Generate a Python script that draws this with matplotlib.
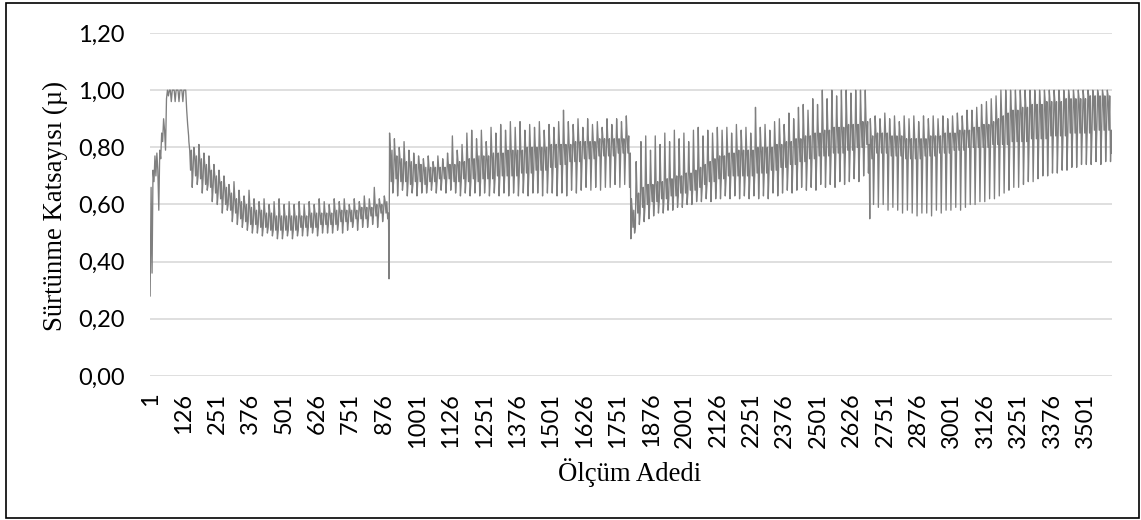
import numpy as np
import matplotlib.pyplot as plt
from matplotlib.patches import Rectangle

# --- okunan değerler (grafikten tahmini) ---
n_olcum = 3600

# başlangıç kısmı (1-145): yükselme ve 1,00 doygunluğu
bas = [0.28, 0.66, 0.36, 0.72, 0.68, 0.77, 0.70, 0.78, 0.72, 0.58,
       0.79, 0.76, 0.85, 0.82, 0.90, 0.86, 0.79, 0.97, 1.00, 0.98,
       1.00, 1.00, 0.96, 1.00, 1.00, 1.00, 0.96, 1.00, 1.00, 1.00,
       0.96, 1.00, 1.00, 1.00, 0.96, 1.00, 1.00, 1.00, 0.93, 0.88, 0.84]

# her bölüm: tepe, bant üstü, bant altı, dip değerleri
a_hi = [0.82, 0.80, 0.81, 0.78, 0.77, 0.74, 0.72, 0.70, 0.67, 0.68,
        0.65, 0.63, 0.65, 0.62, 0.61, 0.62, 0.60, 0.61, 0.62, 0.60,
        0.61, 0.60, 0.61, 0.60, 0.61, 0.60, 0.62, 0.61, 0.60, 0.62,
        0.61, 0.62, 0.60, 0.62, 0.61, 0.63, 0.62, 0.66, 0.62, 0.63]
a_bt = [0.79, 0.77, 0.76, 0.74, 0.72, 0.70, 0.68, 0.66, 0.64, 0.62,
        0.61, 0.60, 0.59, 0.58, 0.58, 0.57, 0.57, 0.56, 0.56, 0.56,
        0.56, 0.56, 0.56, 0.56, 0.57, 0.57, 0.57, 0.57, 0.57, 0.58,
        0.58, 0.58, 0.58, 0.58, 0.59, 0.59, 0.59, 0.60, 0.60, 0.61]
a_bb = [0.72, 0.70, 0.69, 0.67, 0.66, 0.64, 0.62, 0.60, 0.58, 0.57,
        0.55, 0.54, 0.53, 0.53, 0.52, 0.52, 0.51, 0.51, 0.51, 0.51,
        0.51, 0.51, 0.52, 0.52, 0.52, 0.52, 0.53, 0.53, 0.53, 0.53,
        0.54, 0.54, 0.54, 0.55, 0.55, 0.55, 0.56, 0.56, 0.57, 0.57]
a_lo = [0.66, 0.67, 0.64, 0.65, 0.61, 0.60, 0.57, 0.58, 0.54, 0.53,
        0.52, 0.51, 0.50, 0.50, 0.49, 0.50, 0.49, 0.48, 0.48, 0.49,
        0.48, 0.49, 0.49, 0.49, 0.50, 0.49, 0.50, 0.50, 0.50, 0.51,
        0.50, 0.51, 0.52, 0.51, 0.52, 0.52, 0.53, 0.52, 0.54, 0.55]

b_hi = [0.85, 0.83, 0.80, 0.82, 0.79, 0.78, 0.77, 0.76, 0.77, 0.75,
        0.77, 0.76, 0.78, 0.84, 0.79, 0.81, 0.85, 0.86, 0.83, 0.86,
        0.82, 0.87, 0.85, 0.88, 0.86, 0.89, 0.87, 0.89, 0.86, 0.88,
        0.87, 0.89, 0.86, 0.88, 0.87, 0.89, 0.93, 0.89, 0.88, 0.90,
        0.87, 0.90, 0.88, 0.89, 0.87, 0.90, 0.88, 0.90, 0.89, 0.91]
b_bt = [0.79, 0.77, 0.76, 0.75, 0.75, 0.74, 0.74, 0.73, 0.73, 0.73,
        0.73, 0.73, 0.74, 0.74, 0.75, 0.75, 0.76, 0.76, 0.77, 0.77,
        0.77, 0.78, 0.78, 0.78, 0.79, 0.79, 0.79, 0.79, 0.80, 0.80,
        0.80, 0.80, 0.80, 0.81, 0.81, 0.81, 0.81, 0.81, 0.82, 0.82,
        0.82, 0.82, 0.82, 0.83, 0.83, 0.83, 0.83, 0.83, 0.83, 0.84]
b_bb = [0.68, 0.69, 0.68, 0.68, 0.67, 0.68, 0.68, 0.67, 0.68, 0.68,
        0.69, 0.69, 0.69, 0.68, 0.68, 0.69, 0.68, 0.69, 0.68, 0.69,
        0.69, 0.69, 0.70, 0.70, 0.70, 0.70, 0.70, 0.71, 0.71, 0.71,
        0.72, 0.72, 0.72, 0.73, 0.73, 0.74, 0.74, 0.75, 0.75, 0.75,
        0.76, 0.76, 0.76, 0.77, 0.77, 0.77, 0.77, 0.78, 0.78, 0.78]
b_lo = [0.64, 0.63, 0.65, 0.63, 0.64, 0.63, 0.64, 0.64, 0.65, 0.64,
        0.65, 0.64, 0.65, 0.64, 0.63, 0.64, 0.63, 0.64, 0.63, 0.64,
        0.63, 0.64, 0.63, 0.64, 0.63, 0.64, 0.63, 0.64, 0.63, 0.64,
        0.64, 0.63, 0.64, 0.64, 0.63, 0.64, 0.63, 0.65, 0.64, 0.65,
        0.66, 0.65, 0.66, 0.65, 0.66, 0.66, 0.67, 0.66, 0.67, 0.66]

c_hi = [0.62, 0.75, 0.82, 0.84, 0.79, 0.84, 0.81, 0.85, 0.82, 0.86,
        0.83, 0.85, 0.82, 0.86, 0.87, 0.84, 0.86, 0.85, 0.87, 0.86,
        0.87, 0.85, 0.88, 0.86, 0.87, 0.85, 0.94, 0.87, 0.88, 0.86,
        0.89, 0.90, 0.88, 0.92, 0.90, 0.94, 0.95, 0.93, 0.97, 0.95,
        1.00, 0.97, 1.00, 0.98, 1.00, 1.00, 0.99, 1.00, 1.00, 1.00]
c_bt = [0.58, 0.64, 0.66, 0.67, 0.67, 0.68, 0.68, 0.69, 0.69, 0.70,
        0.70, 0.71, 0.71, 0.72, 0.73, 0.74, 0.75, 0.76, 0.77, 0.77,
        0.78, 0.78, 0.79, 0.79, 0.79, 0.79, 0.80, 0.80, 0.80, 0.80,
        0.81, 0.81, 0.82, 0.82, 0.83, 0.83, 0.84, 0.84, 0.85, 0.85,
        0.86, 0.86, 0.87, 0.87, 0.87, 0.88, 0.88, 0.88, 0.89, 0.89]
c_bb = [0.52, 0.57, 0.59, 0.60, 0.61, 0.61, 0.62, 0.62, 0.63, 0.63,
        0.64, 0.64, 0.65, 0.65, 0.66, 0.67, 0.68, 0.68, 0.69, 0.69,
        0.70, 0.70, 0.70, 0.70, 0.70, 0.70, 0.71, 0.71, 0.71, 0.72,
        0.72, 0.73, 0.73, 0.74, 0.74, 0.75, 0.75, 0.76, 0.76, 0.77,
        0.77, 0.77, 0.78, 0.78, 0.78, 0.79, 0.79, 0.80, 0.80, 0.81]
c_lo = [0.50, 0.53, 0.54, 0.55, 0.56, 0.57, 0.57, 0.58, 0.58, 0.59,
        0.59, 0.60, 0.60, 0.61, 0.61, 0.62, 0.61, 0.62, 0.62, 0.63,
        0.62, 0.63, 0.62, 0.63, 0.62, 0.63, 0.62, 0.63, 0.62, 0.64,
        0.63, 0.64, 0.65, 0.64, 0.65, 0.66, 0.65, 0.66, 0.65, 0.67,
        0.66, 0.67, 0.66, 0.68, 0.67, 0.68, 0.69, 0.68, 0.70, 0.71]

d_hi = [0.90, 0.91, 0.90, 0.92, 0.90, 0.91, 0.89, 0.91, 0.90, 0.91,
        0.89, 0.91, 0.90, 0.91, 0.90, 0.91, 0.90, 0.91, 0.92, 0.91,
        0.93, 0.93, 0.94, 0.95, 0.96, 0.97, 0.98, 1.00, 1.00, 1.00,
        1.00, 1.00, 1.00, 1.00, 1.00, 1.00, 1.00, 1.00, 1.00, 1.00,
        1.00, 1.00, 1.00, 1.00, 1.00, 1.00, 1.00, 1.00, 1.00, 1.00]
d_bt = [0.84, 0.85, 0.85, 0.85, 0.84, 0.84, 0.84, 0.83, 0.83, 0.83,
        0.83, 0.83, 0.84, 0.84, 0.84, 0.85, 0.85, 0.85, 0.86, 0.86,
        0.86, 0.87, 0.87, 0.88, 0.88, 0.89, 0.90, 0.91, 0.92, 0.93,
        0.93, 0.94, 0.94, 0.95, 0.95, 0.95, 0.96, 0.96, 0.96, 0.96,
        0.97, 0.97, 0.97, 0.97, 0.97, 0.98, 0.98, 0.98, 0.98, 0.98]
d_bb = [0.76, 0.78, 0.78, 0.78, 0.77, 0.77, 0.77, 0.76, 0.76, 0.76,
        0.76, 0.77, 0.77, 0.77, 0.78, 0.78, 0.78, 0.79, 0.79, 0.79,
        0.80, 0.80, 0.80, 0.80, 0.80, 0.81, 0.81, 0.81, 0.81, 0.82,
        0.82, 0.82, 0.82, 0.83, 0.83, 0.83, 0.83, 0.84, 0.84, 0.84,
        0.84, 0.85, 0.85, 0.85, 0.85, 0.85, 0.86, 0.86, 0.86, 0.86]
d_lo = [0.60, 0.59, 0.60, 0.58, 0.59, 0.58, 0.57, 0.58, 0.57, 0.56,
        0.57, 0.57, 0.56, 0.58, 0.57, 0.58, 0.58, 0.59, 0.58, 0.59,
        0.60, 0.60, 0.61, 0.61, 0.62, 0.62, 0.63, 0.64, 0.65, 0.66,
        0.66, 0.67, 0.68, 0.68, 0.69, 0.70, 0.70, 0.71, 0.71, 0.72,
        0.72, 0.73, 0.73, 0.74, 0.74, 0.74, 0.75, 0.74, 0.75, 0.75]

# bölüm geçişlerindeki ani düşüşler ve son değer
dusus = [0.34, 0.48, 0.55]
son_deger = 0.78

y_ticks = [0.0, 0.2, 0.4, 0.6, 0.8, 1.0, 1.2]
y_labels = ["0,00", "0,20", "0,40", "0,60", "0,80", "1,00", "1,20"]
x_ticks = list(range(1, 3502, 125))


def zikzak(hi, lo, bt, bb):
    # her salınım: tepe -> bant içi -> dip -> bant içi
    vals = []
    for h, l, t, b in zip(hi, lo, bt, bb):
        vals += [h, t, b, t, l, b]
    return vals


parcalar = [
    (1, 145, bas),
    (146, 893, zikzak(a_hi, a_lo, a_bt, a_bb)),
    (895, 895, [dusus[0]]),
    (897, 1798, zikzak(b_hi, b_lo, b_bt, b_bb)),
    (1800, 1800, [dusus[1]]),
    (1802, 2692, zikzak(c_hi, c_lo, c_bt, c_bb)),
    (2694, 2694, [dusus[2]]),
    (2696, 3598, zikzak(d_hi, d_lo, d_bt, d_bb)),
    (3600, 3600, [son_deger]),
]
x = np.concatenate([np.linspace(i0, i1, len(v)) for i0, i1, v in parcalar])
y = np.concatenate([np.array(v) for _, _, v in parcalar])

# --- çizim ---
fig = plt.figure(figsize=(11.41, 5.20), dpi=100)
ax = fig.add_axes([150 / 1141, 1 - 376 / 520, 962 / 1141, 343 / 520])

ax.plot(x, y, color="#7f7f7f", lw=0.95)

ax.set_xlim(0.5, n_olcum + 0.5)
ax.set_ylim(0, 1.2)
ax.set_yticks(y_ticks)
ax.set_yticklabels(y_labels, fontfamily="Lato", fontsize=17)
ax.set_xticks(x_ticks)
ax.set_xticklabels([str(t) for t in x_ticks], rotation=90, fontfamily="Lato", fontsize=17)
ax.tick_params(axis="both", length=0, colors="black")
ax.tick_params(axis="y", pad=18)
ax.tick_params(axis="x", pad=12)
ax.grid(axis="y", color="#d9d9d9", lw=1.2)
ax.set_axisbelow(True)
for s in ax.spines.values():
    s.set_visible(False)

fig.text(630 / 1141, 1 - 473 / 520, "Ölçüm Adedi", ha="center", va="center",
         fontfamily="Liberation Serif", fontsize=19.3)
fig.text(55 / 1141, 1 - 206 / 520, "Sürtünme Katsayısı (µ)", ha="center", va="center",
         rotation=90, fontfamily="Liberation Serif", fontsize=19.3)

fig.add_artist(Rectangle((6 / 1141, 2 / 520), 1133 / 1141, 515 / 520,
                         transform=fig.transFigure, fill=False, ec="black", lw=1.2))

fig.savefig("out.png", dpi=100)
